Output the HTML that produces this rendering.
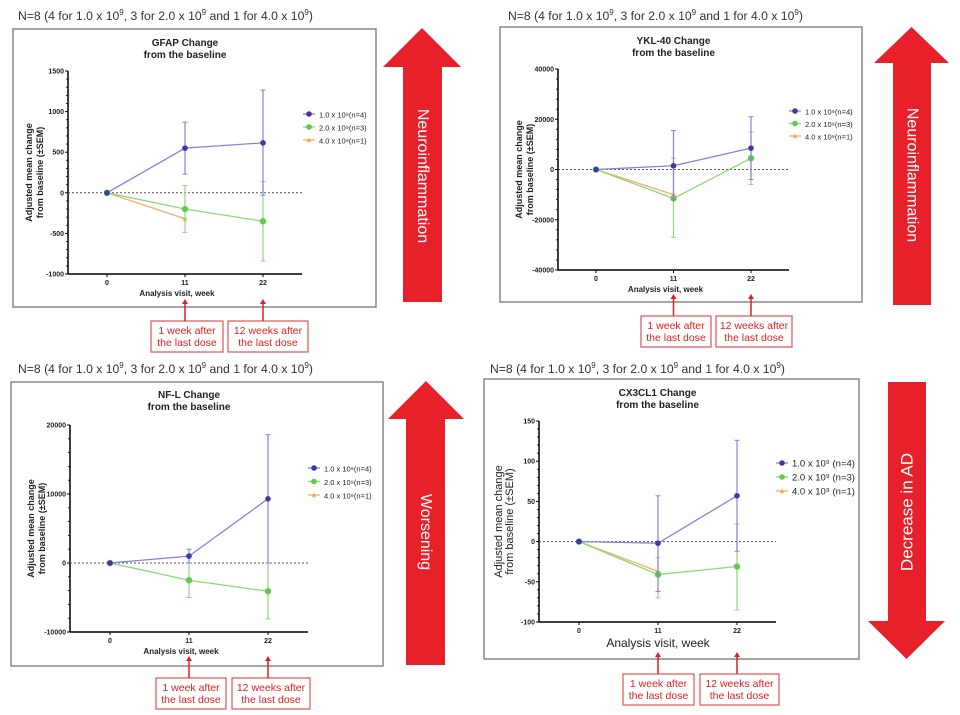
<!DOCTYPE html>
<html><head><meta charset="utf-8"><style>
html,body{margin:0;padding:0;background:#fff;}
svg{display:block;font-family:"Liberation Sans",sans-serif;}
</style></head><body>
<svg id="s" width="960" height="715" viewBox="0 0 960 715" xmlns="http://www.w3.org/2000/svg"></svg>
<script>
const weeks=[0,11,22];
const legendLabels=["1.0 x 10\u2079(n=4)","2.0 x 10\u2079(n=3)","4.0 x 10\u2079(n=1)"];
const colors=["#3a3aa8","#5fc94a","#f0a040"];
const lineColors=["#8a80d8","#8fd878","#f0b070"];
// GFAP
const gfapTicks=[-1000,-500,0,500,1000,1500];
const gfapMean=[[0,550,615],[0,-200,-350],[0,-320,null]];
const gfapLo=[[0,230,-30],[0,-490,-840],[0,-320,null]];
const gfapHi=[[0,870,1265],[0,90,140],[0,-320,null]];
// YKL-40
const yklTicks=[-40000,-20000,0,20000,40000];
const yklMean=[[0,1500,8500],[0,-11500,4500],[0,-10000,null]];
const yklLo=[[0,-12000,-4000],[0,-27000,-6000],[0,-10000,null]];
const yklHi=[[0,15500,21000],[0,4500,15000],[0,-10000,null]];
// NF-L
const nflTicks=[-10000,0,10000,20000];
const nflMean=[[0,1000,9300],[0,-2500,-4100],[0,null,null]];
const nflLo=[[0,0,0],[0,-5000,-8100],[0,null,null]];
const nflHi=[[0,2000,18600],[0,0,0],[0,null,null]];
// CX3CL1
const cxTicks=[-100,-50,0,50,100,150];
const cxMean=[[0,-2,57],[0,-41,-31],[0,-37,null]];
const cxLo=[[0,-62,-12],[0,-70,-85],[0,-37,null]];
const cxHi=[[0,57,126],[0,-20,22],[0,-37,null]];

const NS="http://www.w3.org/2000/svg";
const svg=document.getElementById('s');
function el(tag,attrs,parent,text){const e=document.createElementNS(NS,tag);for(const k in attrs)e.setAttribute(k,attrs[k]);if(text!==undefined)e.textContent=text;(parent||svg).appendChild(e);return e;}

function chart(c){
  const g=el('g',{});
  
  
  const hdr=el('text',{x:c.hx,y:c.hy,'font-size':12.2,fill:'#333'},g);
  
  
  hdr.innerHTML='N=8 (4 for 1.0 x 10<tspan dy="-5" font-size="8">9</tspan><tspan dy="5">, 3 for 2.0 x 10</tspan><tspan dy="-5" font-size="8">9</tspan><tspan dy="5"> and 1 for 4.0 x 10</tspan><tspan dy="-5" font-size="8">9</tspan><tspan dy="5">)</tspan>';
  const box=el('rect',{x:c.bx,y:c.by,width:c.bw,height:c.bh,fill:'#fff',stroke:'#888','stroke-width':1.5},g);
  
  
  const tcx=(c.ax+c.xEnd)/2;
  const t1=el('text',{x:tcx,y:c.ty,'font-size':10,'font-weight':'bold','text-anchor':'middle',fill:'#222'},g,c.title);
  
  
  const t2=el('text',{x:tcx,y:c.ty+12,'font-size':10,'font-weight':'bold','text-anchor':'middle',fill:'#222'},g,'from the baseline');
  
  
  const ymin=c.ticks[0],ymax=c.ticks[c.ticks.length-1];
  const Y=v=>c.yBot-(v-ymin)/(ymax-ymin)*(c.yBot-c.yTop);
  const X=w=>c.x0+(w-weeks[0])/(weeks[2]-weeks[0])*(c.x22-c.x0);
  const ya=el('line',{x1:c.ax,y1:c.yTop,x2:c.ax,y2:c.yBot,stroke:'#000','stroke-width':1.5},g);
  
  
  const xa=el('line',{x1:c.ax,y1:c.yBot,x2:c.xEnd,y2:c.yBot,stroke:'#000','stroke-width':1.5},g);
  
  
  for(let i=0;i<c.ticks.length;i++){
    const v=c.ticks[i];const y=Y(v);
    el('line',{x1:c.ax-3,y1:y,x2:c.ax,y2:y,stroke:'#000'},g);
    const tl=el('text',{x:c.ax-4,y:y+2.5,'font-size':7,'font-weight':'bold','text-anchor':'end',fill:'#222'},g,v);
    
    
    if(i<c.ticks.length-1){const step=(c.ticks[i+1]-v)/5;for(let k=1;k<5;k++){const yy=Y(v+k*step);el('line',{x1:c.ax-2,y1:yy,x2:c.ax,y2:yy,stroke:'#000','stroke-width':0.8},g);}}
  }
  weeks.forEach(w=>{
    el('line',{x1:X(w),y1:c.yBot,x2:X(w),y2:c.yBot+3,stroke:'#000'},g);
    const xl=el('text',{x:X(w),y:c.yBot+11,'font-size':7,'font-weight':'bold','text-anchor':'middle',fill:'#222'},g,w);
    
    
  });
  const xt=el('text',{x:c.bigX?X(11):(c.ax+c.xEnd)/2-8,y:c.yBot+(c.bigX?25:22),'font-size':c.bigX?12:8,'font-weight':c.bigX?'normal':'bold','text-anchor':'middle',fill:'#222'},g,'Analysis visit, week');
  
  
  const ymid=(c.yTop+c.yBot)/2;
  const yt=el('text',{transform:`translate(${c.ax-(c.bigX?37:36)},${ymid}) rotate(-90)`,'font-size':c.bigX?11:9,'font-weight':c.bigX?'normal':'bold','text-anchor':'middle',fill:'#222'},g);
  
  
  el('tspan',{x:0,y:0},yt,'Adjusted mean change');
  el('tspan',{x:0,dy:11},yt,'from baseline (\u00b1SEM)');
  const zl=el('line',{x1:c.ax,y1:Y(0),x2:c.xEnd,y2:Y(0),stroke:'#555','stroke-dasharray':'2,2','stroke-width':1},g);
  
  
  for(let s=2;s>=0;s--){
    const sg=el('g',{},g);
    
    
    let pts=[];
    for(let i=0;i<3;i++){if(c.mean[s][i]!==null)pts.push([X(weeks[i]),Y(c.mean[s][i]),i]);}
    if(pts.length>1){const pl=el('polyline',{points:pts.map(p=>p[0]+','+p[1]).join(' '),fill:'none',stroke:lineColors[s],'stroke-width':1.3},sg);
      
      }
    pts.forEach(p=>{
      const i=p[2];const x=p[0];
      if(c.lo[s][i]!==null&&c.hi[s][i]!==c.lo[s][i]){
        const eb=el('line',{x1:x,y1:Y(c.lo[s][i]),x2:x,y2:Y(c.hi[s][i]),stroke:lineColors[s],'stroke-width':1.2},sg);
        
        
        el('line',{x1:x-2.5,y1:Y(c.lo[s][i]),x2:x+2.5,y2:Y(c.lo[s][i]),stroke:lineColors[s]},sg);
        el('line',{x1:x-2.5,y1:Y(c.hi[s][i]),x2:x+2.5,y2:Y(c.hi[s][i]),stroke:lineColors[s]},sg);
      }
      let m;
      if(s===2){m=el('text',{x:x,y:p[1]+3,'font-size':8,'text-anchor':'middle',fill:colors[s]},sg,'\u2605');}
      else{m=el('circle',{cx:x,cy:p[1],r:s===1?3.2:2.8,fill:colors[s]},sg);}
      
      
    });
  }
  for(let s=0;s<3;s++){
    const ly=c.ly+s*c.lsp;
    const lg=el('g',{},g);
    
    
    el('line',{x1:c.lx-6,y1:ly,x2:c.lx+6,y2:ly,stroke:lineColors[s],'stroke-width':1.3},lg);
    if(s===2)el('text',{x:c.lx,y:ly+3,'font-size':8,'text-anchor':'middle',fill:colors[s]},lg,'\u2605');
    else el('circle',{cx:c.lx,cy:ly,r:2.8,fill:colors[s]},lg);
    el('text',{x:c.lx+10,y:ly+3.5,'font-size':c.bigX?9.5:7.5,fill:'#222'},lg,legendLabels[s].replace('(',c.bigX?' (':'('));
  }
  const notes=[['1 week after','the last dose'],['12 weeks after','the last dose']];
  for(let k=0;k<2;k++){
    const a=c.ann[k];
    const ag=el('g',{},g);
    
    
    el('rect',{x:a[0],y:c.ay,width:a[1]-a[0],height:31,fill:'#fff',stroke:'#e06060','stroke-width':1.3},ag);
    const ax=X(weeks[k+1]);
    el('line',{x1:ax,y1:c.ay,x2:ax,y2:c.ay-19,stroke:'#e02020','stroke-width':1.5},ag);
    el('polygon',{points:`${ax-3},${c.ay-17} ${ax+3},${c.ay-17} ${ax},${c.ay-22}`,fill:'#e02020'},ag);
    const cx=(a[0]+a[1])/2;
    el('text',{x:cx,y:c.ay+13,'font-size':10.5,'text-anchor':'middle',fill:'#e02020'},ag,notes[k][0]);
    el('text',{x:cx,y:c.ay+25,'font-size':10.5,'text-anchor':'middle',fill:'#e02020'},ag,notes[k][1]);
  }
  const A=c.arrow;
  const ag=el('g',{},g);
  
  
  let pts;
  const mx=(A.x1+A.x2)/2;
  if(A.up) pts=`${mx},${A.top} ${A.x2},${A.hb} ${A.s2},${A.hb} ${A.s2},${A.bot} ${A.s1},${A.bot} ${A.s1},${A.hb} ${A.x1},${A.hb}`;
  else pts=`${A.s1},${A.top} ${A.s2},${A.top} ${A.s2},${A.hb} ${A.x2},${A.hb} ${mx},${A.bot} ${A.x1},${A.hb} ${A.s1},${A.hb}`;
  el('polygon',{points:pts,fill:'#e8202a'},ag);
  const tx=(A.s1+A.s2)/2;
  el('text',{transform:`translate(${tx},${A.ty}) rotate(${A.rot})`,'font-size':A.fs,'text-anchor':'middle','dominant-baseline':'central',fill:'#fff'},ag,A.text);
}

chart({name:'gfap-chart',title:'GFAP Change',hx:18,hy:20,bx:13,by:29,bw:363,bh:278,ty:46,
  ax:68,yTop:71,yBot:274,x0:107,x22:263,xEnd:302,ticks:gfapTicks,mean:gfapMean,lo:gfapLo,hi:gfapHi,
  lx:309,ly:114,lsp:13,ann:[[151,223],[228,308]],ay:321,
  arrow:{up:true,x1:383,x2:461,s1:403,s2:442,top:28,hb:67,bot:302,ty:176,rot:90,fs:16,text:'Neuroinflammation'}});
chart({name:'ykl40-chart',title:'YKL-40 Change',hx:508,hy:20,bx:500,by:27,bw:362,bh:275,ty:44,
  ax:558,yTop:69,yBot:270,x0:596,x22:751,xEnd:789,ticks:yklTicks,mean:yklMean,lo:yklLo,hi:yklHi,
  lx:795,ly:111,lsp:12.5,ann:[[641,711],[716,792]],ay:316,
  arrow:{up:true,x1:874,x2:949,s1:893,s2:931,top:27,hb:63,bot:305,ty:175,rot:90,fs:16,text:'Neuroinflammation'}});
chart({name:'nfl-chart',title:'NF-L Change',hx:18,hy:373,bx:11,by:382,bw:372,bh:284,ty:398,
  ax:70,yTop:425,yBot:632,x0:110,x22:268,xEnd:308,ticks:nflTicks,mean:nflMean,lo:nflLo,hi:nflHi,
  lx:314,ly:468,lsp:13.5,ann:[[156,226],[232,310]],ay:678,
  arrow:{up:true,x1:388,x2:464,s1:406,s2:445,top:381,hb:419,bot:665,ty:532,rot:90,fs:16,text:'Worsening'}});
chart({name:'cx3cl1-chart',title:'CX3CL1 Change',hx:490,hy:373,bx:484,by:379,bw:375,bh:280,ty:396,
  ax:539,yTop:421,yBot:622,x0:579,x22:737,xEnd:776,ticks:cxTicks,mean:cxMean,lo:cxLo,hi:cxHi,bigX:true,
  lx:782,ly:463,lsp:14,ann:[[623,694],[700,779]],ay:674,
  arrow:{up:false,x1:868,x2:945,s1:888,s2:926,top:382,hb:621,bot:659,ty:512,rot:-90,fs:17,text:'Decrease in AD'}});
</script>
</body></html>
